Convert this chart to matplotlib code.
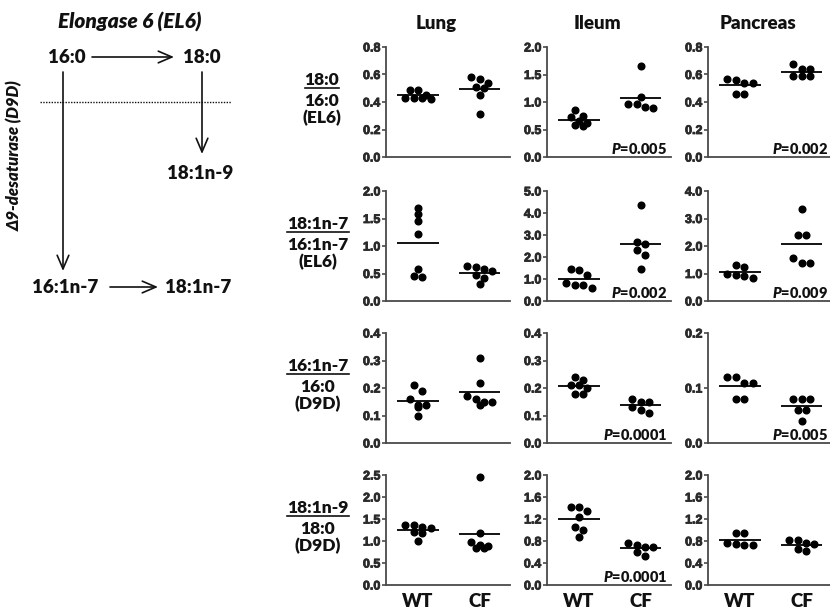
import numpy as np
import matplotlib.pyplot as plt
import matplotlib.patheffects as pe
from matplotlib.lines import Line2D
from matplotlib.patches import FancyArrowPatch

plt.rcParams['mathtext.fontset'] = 'custom'
plt.rcParams['mathtext.it'] = 'Lato:italic:heavy'
plt.rcParams['mathtext.rm'] = 'Lato:heavy'

W, H = 830, 611

tissues = ['Lung', 'Ileum', 'Pancreas']
groups = ['WT', 'CF']

# ratio labels, one row of panels per ratio
ratio_top = ['18:0', '18:1n-7', '16:1n-7', '18:1n-9']
ratio_bottom = ['16:0', '16:1n-7', '16:0', '18:0']
ratio_enzyme = ['(EL6)', '(EL6)', '(D9D)', '(D9D)']

# axis maxima and tick steps: rows x tissues
y_max = [[0.8, 2.0, 0.8], [2.0, 5.0, 4.0], [0.4, 0.4, 0.2], [2.5, 2.0, 2.0]]
y_step = [[0.2, 0.5, 0.2], [0.5, 1.0, 1.0], [0.1, 0.1, 0.1], [0.5, 0.4, 0.4]]

p_values = [[None, '0.005', '0.002'],
            [None, '0.002', '0.009'],
            [None, '0.0001', '0.005'],
            [None, '0.0001', None]]

# individual animals, one list per ratio row
lung_wt = [[0.45, 0.43, 0.49, 0.42, 0.49, 0.43, 0.43],
           [1.70, 1.58, 1.46, 1.21, 0.58, 0.44, 0.46],
           [0.19, 0.21, 0.16, 0.14, 0.14, 0.13, 0.10],
           [1.31, 1.37, 1.36, 1.29, 1.20, 1.19, 0.99]]
lung_cf = [[0.58, 0.54, 0.57, 0.50, 0.45, 0.51, 0.31],
           [0.62, 0.54, 0.48, 0.41, 0.31, 0.58, 0.63],
           [0.31, 0.22, 0.17, 0.15, 0.14, 0.15, 0.16],
           [2.46, 1.19, 0.98, 0.89, 0.83, 0.83, 0.91]]
ileum_wt = [[0.72, 0.61, 0.85, 0.56, 0.75, 0.59, 0.65],
            [1.40, 1.20, 1.46, 0.75, 0.60, 0.71, 0.83],
            [0.21, 0.20, 0.24, 0.23, 0.18, 0.18, 0.21],
            [1.42, 1.42, 1.35, 1.23, 1.06, 1.00, 0.88]]
ileum_cf = [[1.66, 1.09, 0.96, 0.89, 0.91, 0.96],
            [4.35, 2.60, 2.67, 2.30, 2.07, 1.46],
            [0.15, 0.15, 0.16, 0.13, 0.11, 0.12],
            [0.69, 0.77, 0.73, 0.69, 0.53, 0.60]]
pancreas_wt = [[0.57, 0.54, 0.54, 0.56, 0.46, 0.46],
               [1.32, 1.23, 0.93, 0.84, 0.90, 1.00],
               [0.12, 0.11, 0.11, 0.12, 0.08, 0.08],
               [0.95, 0.95, 0.75, 0.72, 0.72, 0.77]]
pancreas_cf = [[0.64, 0.59, 0.68, 0.59, 0.59, 0.64],
               [3.35, 2.40, 2.40, 1.55, 1.38, 1.38],
               [0.08, 0.08, 0.08, 0.06, 0.06, 0.04],
               [0.81, 0.74, 0.77, 0.81, 0.62, 0.65]]

data = {'Lung': (lung_wt, lung_cf),
        'Ileum': (ileum_wt, ileum_cf),
        'Pancreas': (pancreas_wt, pancreas_cf)}

col_left = [386, 547, 708]
row_top = [47, 191, 333, 475]
ax_w, ax_h = 124, 110
XLIM = (0.48, 2.49)

INK = '#111111'
AXC = '#4a4a4a'
BOLD = dict(fontfamily=['Lato', 'DejaVu Sans'], fontweight='heavy', color=INK)
THICK = [pe.withStroke(linewidth=0.6, foreground='#2a2a2a')]


def fx(x):
    return x / W


def fy(y):
    return 1 - y / H


def swarm(vals, span, step=0.136):
    # points of similar value share a row, spread evenly about the centre
    vals = np.asarray(vals)
    order = np.argsort(-vals, kind='stable')
    rows, row = [], [order[0]]
    for i in order[1:]:
        if vals[row[0]] - vals[i] < span:
            row.append(i)
        else:
            rows.append(row)
            row = [i]
    rows.append(row)
    off = np.zeros(len(vals))
    for row in rows:
        n = len(row)
        for k, i in enumerate(row):
            off[i] = (k - (n - 1) / 2) * step
    return off


fig = plt.figure(figsize=(W / 100, H / 100), dpi=100)

for r in range(4):
    for c, tissue in enumerate(tissues):
        left, top = col_left[c], row_top[r]
        ax = fig.add_axes([fx(left), fy(top + ax_h), ax_w / W, ax_h / H])
        ymax = y_max[r][c]
        for g, vals in enumerate(data[tissue]):
            x0 = g + 1
            v = vals[r]
            xs = x0 + swarm(v, 0.055 * ymax)
            ax.plot(xs, v, 'o', ms=4.8, color='black', mec='black',
                    zorder=3, clip_on=False)
            ax.hlines(np.mean(v), x0 - 0.336, x0 + 0.336, color='black', lw=1.3)
        ax.set_xlim(*XLIM)
        ax.set_ylim(0, ymax)
        ticks = np.arange(0, ymax + 1e-9, y_step[r][c])
        ax.set_yticks(ticks)
        ax.set_yticklabels([f'{t:.1f}' for t in ticks],
                           fontfamily='Liberation Sans', fontweight='bold',
                           fontsize=9, color='#2a2a2a', path_effects=THICK)
        for s in ['top', 'right']:
            ax.spines[s].set_visible(False)
        for s in ['left', 'bottom']:
            ax.spines[s].set_color(AXC)
            ax.spines[s].set_linewidth(1.3)
        ax.tick_params(axis='y', direction='out', length=3, width=1.2,
                       color=AXC, pad=1)
        if r == 3:
            ax.set_xticks([1, 2])
            ax.set_xticklabels(groups, fontsize=13.5, **BOLD)
            ax.tick_params(axis='x', length=0, pad=6)
        else:
            ax.set_xticks([])
        ax.patch.set_visible(False)
        if p_values[r][c]:
            ax.text(1 - 4 / ax_w, 3 / ax_h, f'$P$=' + p_values[r][c],
                    transform=ax.transAxes, ha='right', va='baseline',
                    fontsize=10.5, **BOLD)
        if r == 0:
            fig.text(fx(left + 50), fy(29), tissue, ha='center',
                     va='baseline', fontsize=13.5, **BOLD)

# ratio labels to the left of each row
fig.canvas.draw()
renderer = fig.canvas.get_renderer()
for r in range(4):
    mid = row_top[r] + ax_h / 2
    cx = 322 if r == 0 else 318
    t1 = fig.text(fx(cx), fy(mid - 17), ratio_top[r], ha='center',
                  va='baseline', fontsize=12.5, **BOLD)
    fig.text(fx(cx), fy(mid + 4), ratio_bottom[r], ha='center',
             va='baseline', fontsize=12.5, **BOLD)
    fig.text(fx(cx), fy(mid + 21), ratio_enzyme[r], ha='center',
             va='baseline', fontsize=12.5, **BOLD)
    bb = t1.get_window_extent(renderer)
    fig.add_artist(Line2D([bb.x0 / W, bb.x1 / W], [fy(mid - 14)] * 2,
                          color=INK, lw=1.2, transform=fig.transFigure))

# pathway diagram
fig.text(fx(130), fy(29), 'Elongase 6 (EL6)', ha='center', va='baseline',
         style='italic', fontsize=15, **BOLD)
fig.text(fx(15), fy(156), 'Δ9-desaturase (D9D)', ha='center', va='center',
         rotation=90, style='italic', fontsize=12, **BOLD)
nodes = [('16:0', 67, 63), ('18:0', 202, 63), ('18:1n-9', 200, 179),
         ('16:1n-7', 65, 293), ('18:1n-7', 198, 293)]
for name, x, y in nodes:
    fig.text(fx(x), fy(y), name, ha='center', va='baseline',
             fontsize=13.5, **BOLD)

arrows = [((92, 57), (174, 57)), ((202, 72), (202, 154)),
          ((63, 72), (63, 271)), ((110, 287), (158, 287))]
for (x1, y1), (x2, y2) in arrows:
    fig.add_artist(FancyArrowPatch((fx(x1), fy(y1)), (fx(x2), fy(y2)),
                                   transform=fig.transFigure,
                                   arrowstyle='->,head_length=0.7,head_width=0.3',
                                   mutation_scale=14, lw=1.2, color=INK,
                                   shrinkA=0, shrinkB=0))
fig.add_artist(Line2D([fx(40), fx(231)], [fy(102)] * 2, ls=(0, (1, 1)),
                      lw=1.0, color=INK, transform=fig.transFigure))

fig.savefig('out.png', dpi=100)
